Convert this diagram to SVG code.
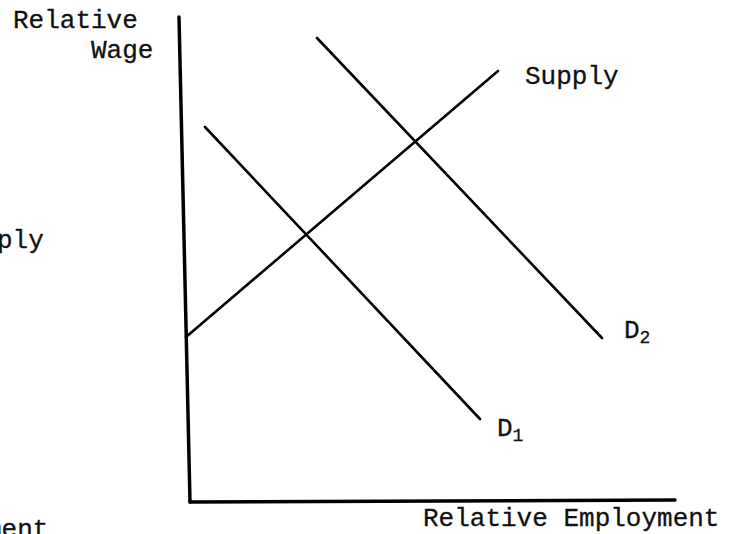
<svg xmlns="http://www.w3.org/2000/svg" width="742" height="534" viewBox="0 0 742 534">
<style>
.t{font-family:"Liberation Mono","DejaVu Sans Mono",monospace;font-size:26px;fill:#111;stroke:#111;stroke-width:0.3}
.s{font-size:18px}
.ax{stroke:#000;stroke-width:3.5;fill:none;stroke-linecap:round}
.ln{stroke:#000;stroke-width:2.6;fill:none;stroke-linecap:round}
</style>
<rect width="742" height="534" fill="#fff"/>
<g id="axes">
<line class="ax" x1="179" y1="17" x2="190" y2="502"/>
<line class="ax" x1="190" y1="502" x2="675" y2="500"/>
</g>
<g id="connectors">
<line id="supply-line" class="ln" x1="186" y1="337" x2="498" y2="71"/>
<line id="d1-line" class="ln" x1="205" y1="127" x2="480" y2="419"/>
<line id="d2-line" class="ln" x1="317" y1="38" x2="602" y2="338"/>
</g>
<g id="label-y"><text class="t" x="13" y="28">Relative</text><text class="t" x="91" y="58">Wage</text></g>
<g id="label-x"><text class="t" x="423" y="526">Relative Employment</text></g>
<g id="label-supply"><text class="t" x="525" y="84">Supply</text></g>
<g id="label-d1"><text class="t" x="497" y="436">D<tspan class="s" dy="5">1</tspan></text></g>
<g id="label-d2"><text class="t" x="624" y="338">D<tspan class="s" dy="5">2</tspan></text></g>
<g id="fragments"><text class="t" x="-3" y="248">ply</text><text class="t" x="-14" y="537">ment</text></g>
</svg>
